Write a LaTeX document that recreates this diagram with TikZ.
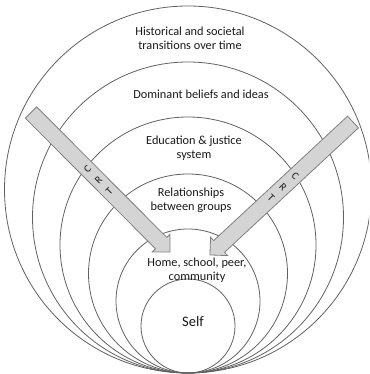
\documentclass[tikz,border=0pt]{standalone}
\usepackage{fontspec}
\setmainfont{Carlito}
\begin{document}
\begin{tikzpicture}[x=1pt,y=-1pt,
  ring/.style={draw=black!62,line width=0.8pt},
  crtarrow/.style={draw=black!50,fill=black!17,line width=0.8pt,line join=miter},
  lbl/.style={align=center,inner sep=0pt,text=black!90,font=\fontsize{12.3}{13.6}\selectfont},
  crt/.style={inner sep=0pt,text=black!90,font=\fontsize{10.5}{12}\selectfont}]
\useasboundingbox (0,0) rectangle (369,374);
\clip (0,0) rectangle (369,374);
% nested circles, all tangent at the bottom
\foreach \r in {183.5,155.5,128,99.5,72,47}
  \draw[ring] (188,373-\r) circle[radius=\r pt];
% left CRT arrow
\begin{scope}[shift={(31,112.5)},rotate=-45.1]
  \draw[crtarrow] (0,-8) -- (184.4,-8) -- (184.4,-12.5) -- (196.9,0) -- (184.4,12.5) -- (184.4,8) -- (0,8) -- cycle;
\end{scope}
% right CRT arrow
\begin{scope}[shift={(353,122)},rotate=222.9]
  \draw[crtarrow] (0,-8) -- (182.8,-8) -- (182.8,-12.5) -- (195.3,0) -- (182.8,12.5) -- (182.8,8) -- (0,8) -- cycle;
\end{scope}
\node[crt,rotate=45] (lc) at (87.5,169.2) {C};
\node[crt,rotate=45] (lr) at (98.4,180.2) {R};
\node[crt,rotate=45] (lt) at (109.4,191.2) {T};
\node[crt,rotate=-45] (rc) at (295.2,175.8) {C};
\node[crt,rotate=-45] (rr) at (283.1,187) {R};
\node[crt,rotate=-45] (rt) at (271,198.3) {T};
% labels
\node[lbl] (hist) at (190,38) {Historical and societal\\transitions over time};
\node[lbl] (dom) at (201,94.5) {Dominant beliefs and ideas};
\node[lbl] (edu) at (194,148) {Education \& justice\\system};
\node[lbl] (rel) at (191,200.5) {Relationships\\between groups};
\node[lbl] (home) at (197,270.5) {Home, school, peer,\\community};
\node[lbl,font=\fontsize{14.5}{17}\selectfont] (self) at (193,322) {Self};
\end{tikzpicture}
\end{document}
